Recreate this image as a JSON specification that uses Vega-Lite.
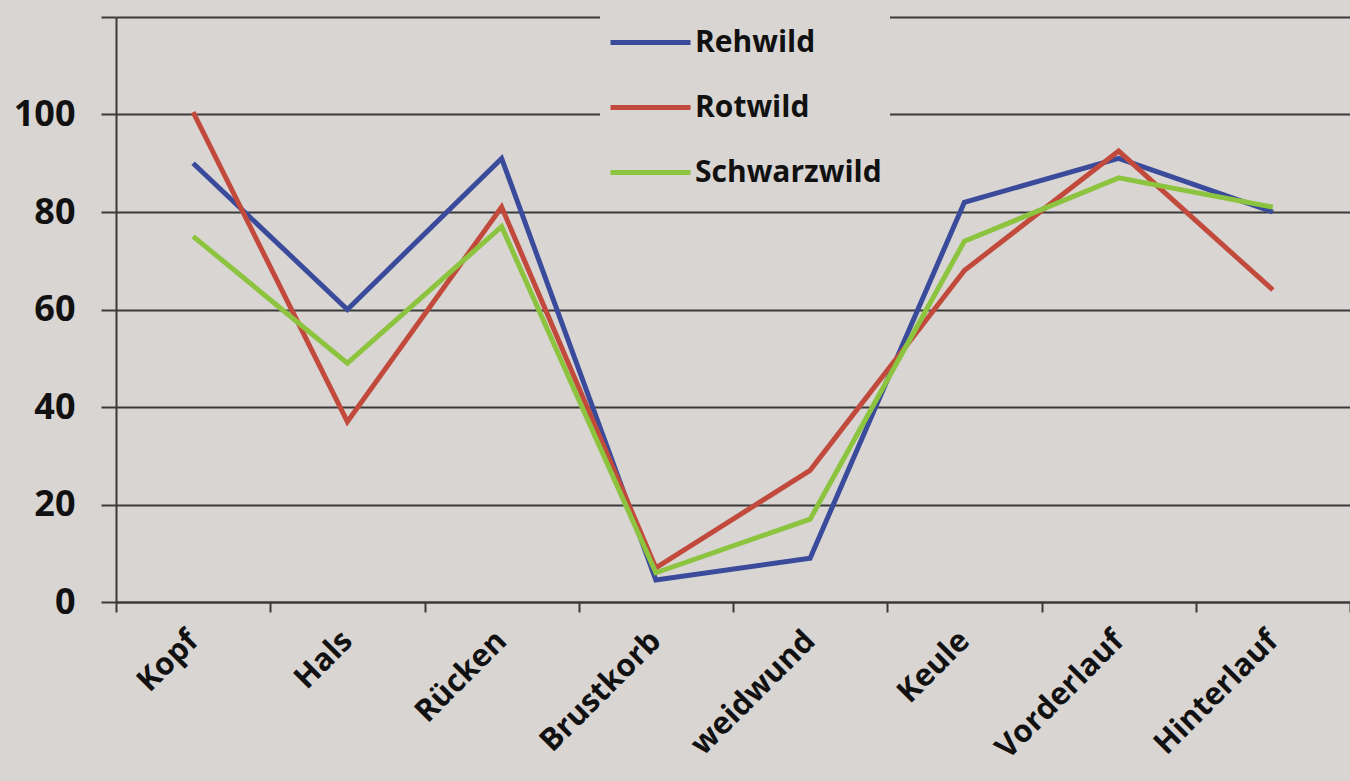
{
  "$schema": "https://vega.github.io/schema/vega-lite/v6.json",
  "autosize": {"type": "none"},
  "width": 1234,
  "height": 585,
  "padding": {"left": 116, "top": 17, "right": 0, "bottom": 179},
  "background": "#d8d5d2",
  "config": {
    "view": {"stroke": null},
    "font": "Open Sans"
  },
  "data": {
    "values": [
      {"teil": "Kopf", "art": "Rehwild", "wert": 90},
      {"teil": "Hals", "art": "Rehwild", "wert": 60},
      {"teil": "Rücken", "art": "Rehwild", "wert": 91},
      {"teil": "Brustkorb", "art": "Rehwild", "wert": 4.5},
      {"teil": "weidwund", "art": "Rehwild", "wert": 9},
      {"teil": "Keule", "art": "Rehwild", "wert": 82},
      {"teil": "Vorderlauf", "art": "Rehwild", "wert": 91},
      {"teil": "Hinterlauf", "art": "Rehwild", "wert": 80},
      {"teil": "Kopf", "art": "Rotwild", "wert": 100.5},
      {"teil": "Hals", "art": "Rotwild", "wert": 37},
      {"teil": "Rücken", "art": "Rotwild", "wert": 81},
      {"teil": "Brustkorb", "art": "Rotwild", "wert": 7},
      {"teil": "weidwund", "art": "Rotwild", "wert": 27},
      {"teil": "Keule", "art": "Rotwild", "wert": 68},
      {"teil": "Vorderlauf", "art": "Rotwild", "wert": 92.5},
      {"teil": "Hinterlauf", "art": "Rotwild", "wert": 64},
      {"teil": "Kopf", "art": "Schwarzwild", "wert": 75},
      {"teil": "Hals", "art": "Schwarzwild", "wert": 49},
      {"teil": "Rücken", "art": "Schwarzwild", "wert": 77},
      {"teil": "Brustkorb", "art": "Schwarzwild", "wert": 6},
      {"teil": "weidwund", "art": "Schwarzwild", "wert": 17},
      {"teil": "Keule", "art": "Schwarzwild", "wert": 74},
      {"teil": "Vorderlauf", "art": "Schwarzwild", "wert": 87},
      {"teil": "Hinterlauf", "art": "Schwarzwild", "wert": 81}
    ]
  },
  "mark": {"type": "line", "strokeWidth": 5, "strokeJoin": "miter"},
  "encoding": {
    "x": {
      "field": "teil",
      "type": "nominal",
      "sort": ["Kopf", "Hals", "Rücken", "Brustkorb", "weidwund", "Keule", "Vorderlauf", "Hinterlauf"],
      "scale": {"type": "band", "paddingInner": 0, "paddingOuter": 0},
      "bandPosition": 0.5,
      "axis": {
        "title": null,
        "tickBand": "extent",
        "grid": false,
        "domainColor": "#3a3a3a",
        "domainWidth": 2,
        "tickColor": "#3a3a3a",
        "tickWidth": 2,
        "tickSize": 10,
        "labelAngle": -45,
        "labelAlign": "right",
        "labelBaseline": "middle",
        "labelPadding": 24,
        "labelFontSize": 31,
        "labelFontWeight": "bold",
        "labelColor": "#111111"
      }
    },
    "y": {
      "field": "wert",
      "type": "quantitative",
      "scale": {"domain": [0, 120], "nice": false},
      "axis": {
        "title": null,
        "values": [0, 20, 40, 60, 80, 100, 120],
        "labelExpr": "datum.value == 120 ? '' : datum.label",
        "grid": true,
        "gridColor": "#3a3a3a",
        "gridWidth": 2,
        "gridOpacity": 1,
        "domainColor": "#3a3a3a",
        "domainWidth": 2,
        "tickColor": "#3a3a3a",
        "tickWidth": 2,
        "tickSize": 15,
        "labelPadding": 26,
        "labelFontSize": 36,
        "labelFontWeight": "bold",
        "labelColor": "#111111"
      }
    },
    "color": {
      "field": "art",
      "type": "nominal",
      "scale": {"domain": ["Rehwild", "Rotwild", "Schwarzwild"], "range": ["#3b4b9b", "#c24a3c", "#8cc43f"]},
      "legend": {
        "title": null,
        "orient": "none",
        "legendX": 484,
        "legendY": -25,
        "direction": "vertical",
        "fillColor": "#d8d5d2",
        "padding": 8,
        "symbolType": "stroke",
        "symbolSize": 6400,
        "symbolStrokeWidth": 5,
        "labelFontSize": 30,
        "labelFontWeight": "bold",
        "labelColor": "#111111",
        "labelOffset": 2,
        "rowPadding": 7,
        "labelLimit": 400
      }
    }
  }
}
